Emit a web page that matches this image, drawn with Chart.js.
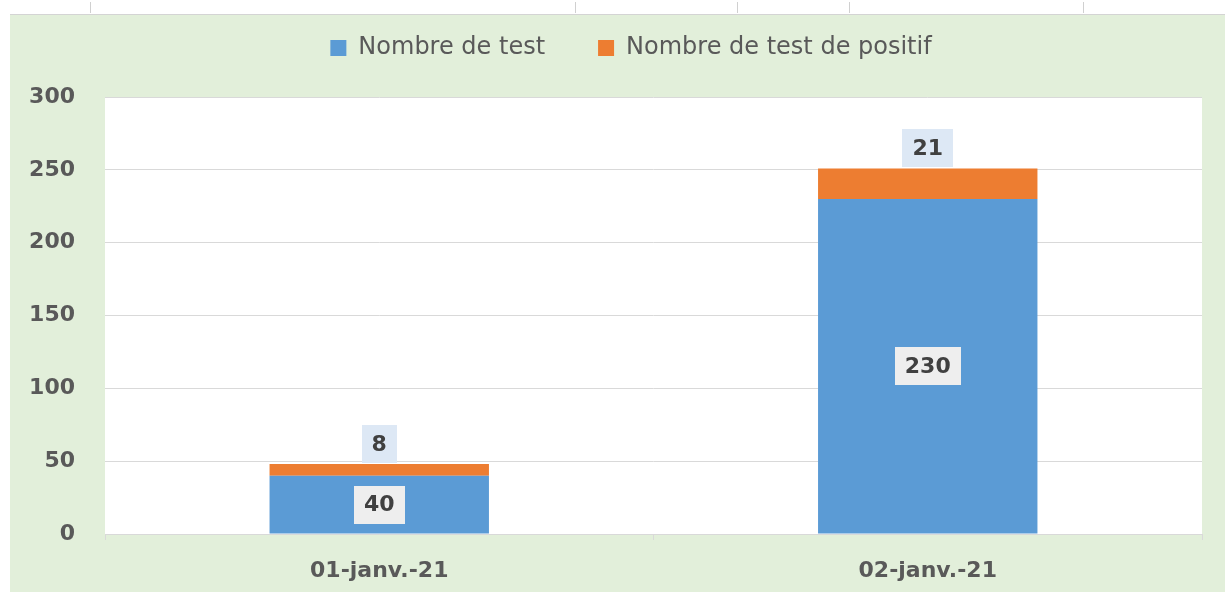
<!DOCTYPE html>
<html>
<head>
<meta charset="utf-8">
<script src="https://cdn.jsdelivr.net/npm/chart.js@4/dist/chart.umd.min.js"></script>
<style>
  body { margin: 0; background: #fff; width: 1225px; height: 592px; overflow: hidden; position: relative; }
  #panel { position: absolute; left: 10px; top: 14px; width: 1215px; height: 578px; background: #e2efda; border-top: 1px solid #d4d4d4; box-sizing: border-box; }
  #myChart { display: block; }
  .tick { position: absolute; top: 2px; width: 1px; height: 11px; background: #d0d0d0; }
</style>
</head>
<body>
<div class="tick" style="left:90px"></div>
<div class="tick" style="left:575px"></div>
<div class="tick" style="left:737px"></div>
<div class="tick" style="left:849px"></div>
<div class="tick" style="left:1083px"></div>
<div id="panel"><canvas id="myChart" width="1215" height="577"></canvas></div>
<script>
// data
var days = ["01-janv.-21", "02-janv.-21"];
var nbTests = [40, 230];
var nbPositifs = [8, 21];
var yTicks = [0, 50, 100, 150, 200, 250, 300];

var grey = "#595959";
var fontName = "'DejaVu Sans', Arial, sans-serif";

// white plot area
var plotBg = {
  id: "plotBg",
  beforeDraw: function (chart) {
    var a = chart.chartArea;
    chart.ctx.save();
    chart.ctx.fillStyle = "#ffffff";
    chart.ctx.fillRect(a.left, a.top, a.right - a.left, a.bottom - a.top);
    chart.ctx.restore();
  }
};

// value labels with a box behind, like the excel ones
var boxLabels = {
  id: "boxLabels",
  afterDatasetsDraw: function (chart) {
    var ctx = chart.ctx;
    ctx.save();
    ctx.font = "bold 22px " + fontName;
    ctx.textAlign = "center";
    ctx.textBaseline = "middle";
    chart.data.datasets.forEach(function (ds, di) {
      var meta = chart.getDatasetMeta(di);
      meta.data.forEach(function (bar, i) {
        var txt = String(ds.data[i]);
        var cy, bg;
        if (di == 0) {
          cy = (bar.y + bar.base) / 2;
          bg = "#eeeeee";
        } else {
          cy = bar.y - 20;
          bg = "#dde8f5";
        }
        var w = ctx.measureText(txt).width + 20;
        var h = 38;
        ctx.fillStyle = bg;
        ctx.fillRect(Math.round(bar.x - w / 2), Math.round(cy - h / 2), Math.round(w), h);
        ctx.fillStyle = "#404040";
        ctx.fillText(txt, bar.x, cy + 1);
      });
    });
    ctx.restore();
  }
};

// tweak the gap under the legend, and nudge the legend right
var legendGap = {
  id: "legendGap",
  beforeInit: function (chart) {
    var fit = chart.legend.fit;
    chart.legend.fit = function () {
      fit.bind(chart.legend)();
      this.height += 27;
    };
  },
  afterLayout: function (chart) {
    chart.legend.left += 20;
    chart.legend.right += 20;
  }
};

Chart.defaults.font.family = fontName;

new Chart(document.getElementById("myChart"), {
  type: "bar",
  data: {
    labels: days,
    datasets: [
      {
        label: "Nombre de test",
        data: nbTests,
        backgroundColor: "#5b9bd5",
        stack: "s"
      },
      {
        label: "Nombre de test de positif",
        data: nbPositifs,
        backgroundColor: "#ed7d31",
        stack: "s"
      }
    ]
  },
  options: {
    responsive: false,
    animation: false,
    barPercentage: 0.4,
    categoryPercentage: 1,
    layout: { padding: { top: -32, left: 10, right: 23, bottom: 10 } },
    plugins: {
      tooltip: { enabled: false },
      legend: {
        position: "top",
        labels: {
          boxWidth: 16,
          boxHeight: 16,
          padding: 53,
          color: grey,
          font: { size: 24 }
        }
      }
    },
    scales: {
      x: {
        stacked: true,
        afterFit: function (scale) { scale.height = 48; },
        grid: { drawOnChartArea: false, offset: true, tickLength: 6, color: "#d9d9d9" },
        border: { color: "#d9d9d9" },
        ticks: { color: grey, padding: 18, font: { size: 22, weight: "bold" } }
      },
      y: {
        stacked: true,
        min: 0,
        max: 300,
        afterBuildTicks: function (scale) {
          scale.ticks = yTicks.map(function (v) { return { value: v }; });
        },
        afterFit: function (scale) { scale.width = 85; },
        grid: { color: "#d9d9d9", drawTicks: false },
        border: { display: false },
        ticks: { color: grey, padding: 30, font: { size: 22, weight: "bold" } }
      }
    }
  },
  plugins: [plotBg, boxLabels, legendGap]
});
</script>
</body>
</html>
